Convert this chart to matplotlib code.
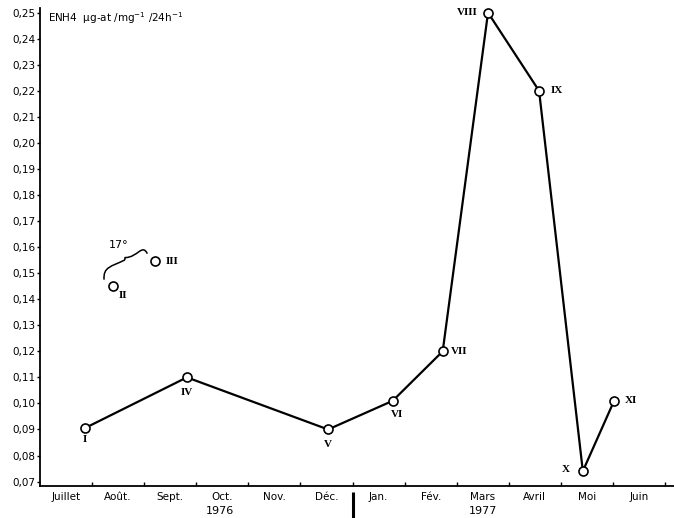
import matplotlib
matplotlib.use("Agg")
import matplotlib.pyplot as plt
from matplotlib.path import Path
from matplotlib.patches import PathPatch

# Months (July 1976 -> June 1977); month m spans [m, m+1] on the x axis
months = ["Juillet", "Août.", "Sept.", "Oct.", "Nov.", "Déc.",
          "Jan.", "Fév.", "Mars", "Avril", "Moi", "Juin"]
years = ["1976", "1977"]
year_pos = [3.45, 8.5]

# Sampling stations (position in months, ENH4 value)
labels = ["I", "II", "III", "IV", "V", "VI", "VII", "VIII", "IX", "X", "XI"]
x_vals = [0.86, 1.40, 2.21, 2.82, 5.53, 6.77, 7.73, 8.60, 9.58, 10.42, 11.02]
y_vals = [0.0905, 0.145, 0.1545, 0.110, 0.090, 0.101, 0.120, 0.250, 0.220, 0.074, 0.101]

# stations joined by the line (II and III are isolated at 17°)
line_idx = [0, 3, 4, 5, 6, 7, 8, 9, 10]

# label offsets in points (dx, dy, ha, va)
label_off = {
    "I": (0, -8, "center", "center"),
    "II": (7, -7, "center", "center"),
    "III": (12, 0, "center", "center"),
    "IV": (0, -11, "center", "center"),
    "V": (0, -11, "center", "center"),
    "VI": (3, -10, "center", "center"),
    "VII": (12, 0, "center", "center"),
    "VIII": (-15, 0, "center", "center"),
    "IX": (13, 0, "center", "center"),
    "X": (-12, 1, "center", "center"),
    "XI": (12, 0, "center", "center"),
}

yticks = [round(0.07 + 0.01 * i, 2) for i in range(19)]

fig = plt.figure(figsize=(6.74, 5.18), dpi=100)
ax = fig.add_axes([40 / 674, 32 / 518, 1 - 40 / 674, (486 - 8) / 518])
ax.set_xlim(0, 12.17)
ax.set_ylim(0.0683, 0.2518)

for s in ("top", "right"):
    ax.spines[s].set_visible(False)
ax.spines["left"].set_linewidth(1.3)
ax.spines["bottom"].set_linewidth(1.3)

# y axis
ax.set_yticks(yticks)
ax.set_yticklabels([f"{v:.2f}".replace(".", ",") for v in yticks],
                   fontsize=7.5, fontfamily="DejaVu Sans")
ax.tick_params(axis="y", direction="out", length=2.5, width=1, pad=1)

# x axis: boundary ticks, month names centred in between
ax.set_xticks(range(1, 13))
ax.set_xticklabels([])
ax.tick_params(axis="x", direction="in", length=3, width=1)
ax.set_xticks([m + 0.5 for m in range(12)], minor=True)
ax.set_xticklabels(months, minor=True, fontsize=7.5, fontfamily="DejaVu Sans")
ax.tick_params(axis="x", which="minor", length=0, pad=4)

for yr, xp in zip(years, year_pos):
    ax.text(xp, -0.052, yr, transform=ax.get_xaxis_transform(),
            ha="center", va="center", fontsize=8, fontfamily="DejaVu Sans")

# divider between the two years
ax.plot([6, 6], [-0.012, -0.07], transform=ax.get_xaxis_transform(),
        color="black", lw=2.2, clip_on=False, solid_capstyle="butt")

# series line
ax.plot([x_vals[i] for i in line_idx], [y_vals[i] for i in line_idx],
        color="black", lw=1.6, zorder=2)
ax.plot(x_vals, y_vals, linestyle="none", marker="o", markersize=6.5,
        markerfacecolor="white", markeredgecolor="black",
        markeredgewidth=1.2, zorder=3)

for lab, xv, yv in zip(labels, x_vals, y_vals):
    dx, dy, ha, va = label_off[lab]
    ax.annotate(lab, (xv, yv), xytext=(dx, dy), textcoords="offset points",
                ha=ha, va=va, fontsize=8, fontweight="bold",
                fontfamily="Liberation Serif")

# curly brace over stations II and III, with temperature note
x2, y2 = x_vals[1], y_vals[1]
x3, y3 = x_vals[2], y_vals[2]
bx0, by0 = x2 - 0.17, y2 + 0.0025
bx1, by1 = x2 + 0.22, y2 + 0.0105
bx2, by2 = x3 - 0.15, y3 + 0.0030
verts = [(bx0, by0),
         (bx0 - 0.02, by0 + 0.005), (bx1 - 0.25, by1 - 0.003), (bx1, by1 - 0.0005),
         (bx1 + 0.02, by1), (bx1, by1 + 0.0005), (bx1 + 0.02, by1 + 0.0005),
         (bx1 + 0.25, by1 + 0.0005), (bx2 - 0.1, by2 + 0.004), (bx2, by2)]
codes = [Path.MOVETO, Path.CURVE4, Path.CURVE4, Path.CURVE4,
         Path.CURVE4, Path.CURVE4, Path.CURVE4,
         Path.CURVE4, Path.CURVE4, Path.CURVE4]
ax.add_patch(PathPatch(Path(verts, codes), facecolor="none",
                       edgecolor="black", lw=1.1))
ax.text(bx1 - 0.12, by1 + 0.0035, "17°", ha="center", va="bottom",
        fontsize=8, fontfamily="DejaVu Sans")

# unit title
ax.text(0.012, 0.995, "ENH4  µg-at /mg$^{-1}$ /24h$^{-1}$",
        transform=ax.transAxes, ha="left", va="top", fontsize=7.5,
        fontfamily="DejaVu Sans")

fig.savefig("out.png", dpi=100)
